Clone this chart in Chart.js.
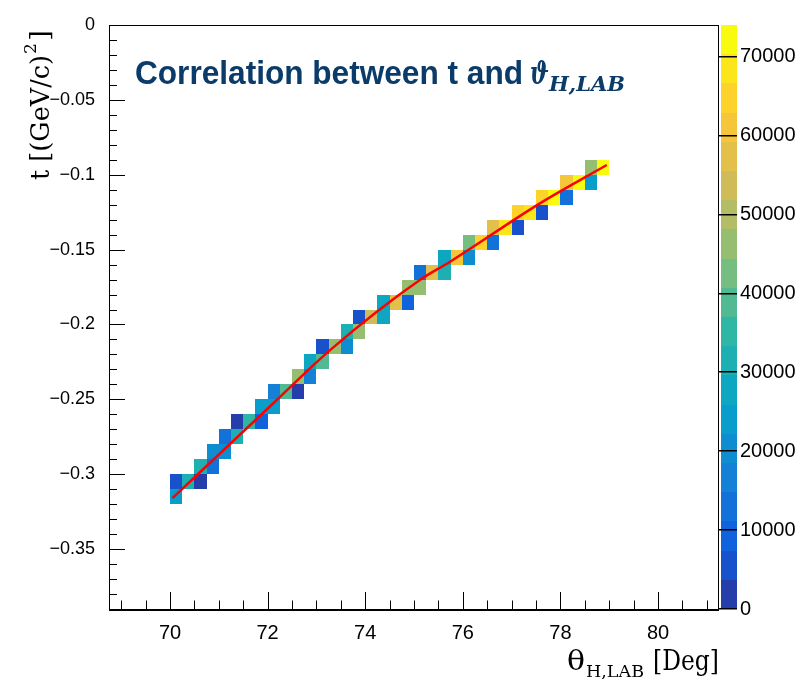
<!DOCTYPE html>
<html>
<head>
<meta charset="utf-8">
<title>Correlation between t and theta</title>
<script src="https://cdn.jsdelivr.net/npm/chart.js@4.4.1/dist/chart.umd.min.js"></script>
<style>
  html, body { margin: 0; padding: 0; background: #ffffff; }
  canvas { display: block; }
</style>
</head>
<body>
<canvas id="corrChart" width="808" height="679"></canvas>
<script>
// lower edges of the filled bins (theta in deg, t in (GeV/c)^2) and the bin contents
const binTheta = [70.00, 70.00, 70.25, 70.50, 70.50, 70.75, 70.75, 71.00, 71.00, 71.25,
                  71.25, 71.50, 71.75, 71.75, 72.00, 72.00, 72.25, 72.50, 72.50, 72.75,
                  72.75, 73.00, 73.00, 73.25, 73.50, 73.50, 73.75, 73.75, 74.00, 74.25,
                  74.25, 74.50, 74.75, 74.75, 75.00, 75.00, 75.25, 75.50, 75.50, 75.75,
                  76.00, 76.00, 76.25, 76.50, 76.50, 76.75, 77.00, 77.00, 77.25, 77.50,
                  77.50, 77.75, 78.00, 78.00, 78.25, 78.50, 78.50, 78.75];
const binT = [-0.32, -0.31, -0.31, -0.31, -0.30, -0.30, -0.29, -0.29, -0.28, -0.28,
              -0.27, -0.27, -0.27, -0.26, -0.26, -0.25, -0.25, -0.25, -0.24, -0.24,
              -0.23, -0.23, -0.22, -0.22, -0.22, -0.21, -0.21, -0.20, -0.20, -0.20,
              -0.19, -0.19, -0.19, -0.18, -0.18, -0.17, -0.17, -0.17, -0.16, -0.16,
              -0.16, -0.15, -0.15, -0.15, -0.14, -0.14, -0.14, -0.13, -0.13, -0.13,
              -0.12, -0.12, -0.12, -0.11, -0.11, -0.11, -0.10, -0.10];
const binCounts = [25000, 7000, 32000, 3000, 33000, 12000, 21000, 21000, 14000, 33000,
                   3000, 35000, 11000, 25000, 25000, 17000, 38000, 3000, 45000, 17000,
                   26000, 40000, 7000, 47000, 20000, 32000, 47000, 7000, 52000, 26000,
                   27000, 57000, 8000, 48000, 48000, 12000, 58000, 32000, 27000, 62000,
                   20000, 44000, 64000, 12000, 57000, 70000, 7000, 65000, 70000, 6000,
                   64000, 72000, 12000, 62000, 74000, 25000, 48000, 74000];
const binWidthTheta = 0.25;
const binWidthT = 0.01;

// fitted curve (red)
const fitTheta = [70.05, 72.15, 73.28, 75.12, 75.74, 77.58, 78.95];
const fitT = [-0.316, -0.2516, -0.2171, -0.1703, -0.1581, -0.1191, -0.0935];

// axes
const thetaTicks = [70, 72, 74, 76, 78, 80];
const tTicks = [0, -0.05, -0.1, -0.15, -0.2, -0.25, -0.3, -0.35];
const countTicks = [0, 10000, 20000, 30000, 40000, 50000, 60000, 70000];
const countMax = 74000;
const nLevels = 20;

// ROOT kBird palette
const birdStops = [0, 0.125, 0.25, 0.375, 0.5, 0.625, 0.75, 0.875, 1];
const birdR = [0.2082, 0.0592, 0.0780, 0.0232, 0.1802, 0.5301, 0.8186, 0.9956, 0.9764];
const birdG = [0.1664, 0.3599, 0.5041, 0.6419, 0.7178, 0.7492, 0.7328, 0.7862, 0.9832];
const birdB = [0.5293, 0.8684, 0.8385, 0.7914, 0.6425, 0.4662, 0.3499, 0.1968, 0.0539];

function birdColor(f) {
    f = Math.max(0, Math.min(1, f));
    let i = 0;
    while (i < birdStops.length - 2 && f > birdStops[i + 1]) i++;
    const u = (f - birdStops[i]) / (birdStops[i + 1] - birdStops[i]);
    const c = a => Math.round(255 * (a[i] + (a[i + 1] - a[i]) * u));
    return `rgb(${c(birdR)},${c(birdG)},${c(birdB)})`;
}

function levelColor(k) {
    return birdColor((k + 0.99) / nLevels);
}

function countColor(v) {
    const k = Math.min(nLevels - 1, Math.floor(v / (countMax / nLevels)));
    return levelColor(k);
}

// text squeezed into a given width, like the stretched labels of the picture
function fitText(ctx, text, font, x, y, width) {
    ctx.font = font;
    const w = ctx.measureText(text).width;
    ctx.save();
    ctx.translate(x, y);
    ctx.scale(width / w, 1);
    ctx.fillText(text, 0, 0);
    ctx.restore();
}

const th2Plugin = {
    id: 'th2',
    beforeDraw(chart) {
        const { ctx } = chart;
        ctx.save();
        ctx.fillStyle = '#ffffff';
        ctx.fillRect(0, 0, chart.width, chart.height);

        // palette box
        const z = chart.scales.z;
        const step = countMax / nLevels;
        for (let k = 0; k < nLevels; k++) {
            const y1 = Math.round(z.getPixelForValue(k * step));
            const y2 = Math.round(z.getPixelForValue((k + 1) * step));
            ctx.fillStyle = levelColor(k);
            ctx.fillRect(z.left + 2, y2, 16, y1 - y2);
        }
        ctx.restore();
    },
    beforeDatasetsDraw(chart) {
        const { ctx } = chart;
        const xs = chart.scales.x, ys = chart.scales.y;
        ctx.save();
        chart.data.datasets[0].data.forEach(p => {
            const l = Math.round(xs.getPixelForValue(p.x - binWidthTheta / 2));
            const r = Math.round(xs.getPixelForValue(p.x + binWidthTheta / 2));
            const t = Math.round(ys.getPixelForValue(p.y + binWidthT / 2));
            const b = Math.round(ys.getPixelForValue(p.y - binWidthT / 2));
            ctx.fillStyle = countColor(p.v);
            ctx.fillRect(l, t, r - l, b - t);
        });
        ctx.restore();
    },
    afterDatasetsDraw(chart) {
        const { ctx, chartArea: a } = chart;
        const xs = chart.scales.x, ys = chart.scales.y;
        ctx.save();
        ctx.strokeStyle = '#000000';
        ctx.lineWidth = 1;
        ctx.beginPath();
        // ticks pointing into the frame, ROOT style
        for (let i = 0; i <= 24; i++) {
            const px = Math.round(xs.getPixelForValue(69 + i * 0.5)) + 0.5;
            const len = i % 4 === 2 ? 17 : 8.5;
            ctx.moveTo(px, a.bottom);
            ctx.lineTo(px, a.bottom - len);
        }
        for (let i = 0; i <= 38; i++) {
            const py = Math.round(ys.getPixelForValue(-i * 0.01)) + 0.5;
            const len = i % 5 === 0 ? 16 : 8;
            ctx.moveTo(a.left, py);
            ctx.lineTo(a.left + len, py);
        }
        ctx.stroke();
        ctx.strokeRect(Math.round(a.left) + 0.5, Math.round(a.top) + 0.5,
                       Math.round(a.right - a.left) - 1, Math.round(a.bottom - a.top));
        ctx.lineWidth = 2;
        ctx.beginPath();
        ctx.moveTo(a.left, Math.round(a.bottom) + 1);
        ctx.lineTo(a.right, Math.round(a.bottom) + 1);
        ctx.stroke();
        ctx.restore();
    },
    afterDraw(chart) {
        const { ctx } = chart;
        ctx.save();
        ctx.textAlign = 'left';
        ctx.textBaseline = 'alphabetic';

        // title inside the frame
        ctx.fillStyle = '#0b3b69';
        fitText(ctx, 'Correlation between t and', 'bold 34px "Liberation Sans", Arial, sans-serif', 135, 84, 388);
        fitText(ctx, 'ϑ', 'italic bold 32px "DejaVu Serif", serif', 530, 84, 19);
        fitText(ctx, 'H,LAB', 'italic bold 20px "DejaVu Serif", serif', 549, 91, 76);

        // x title
        ctx.fillStyle = '#000000';
        fitText(ctx, 'θ', '28px "DejaVu Serif", serif', 567, 670, 18);
        fitText(ctx, 'H,LAB', '17px "DejaVu Serif", serif', 586, 677, 58);
        fitText(ctx, '[Deg]', '28px "DejaVu Serif", serif', 653, 670, 66);

        // y title, rotated
        ctx.save();
        ctx.translate(49, 180);
        ctx.rotate(-Math.PI / 2);
        fitText(ctx, 't [(GeV/c)', '26px "DejaVu Serif", serif', 0, 0, 125);
        fitText(ctx, '2', '17px "DejaVu Serif", serif', 126, -13, 11);
        fitText(ctx, ']', '26px "DejaVu Serif", serif', 139, 0, 11);
        ctx.restore();

        ctx.restore();
    }
};

const cells = binTheta.map((x, i) => ({
    x: x + binWidthTheta / 2,
    y: binT[i] + binWidthT / 2,
    v: binCounts[i]
}));

const yFont = { family: '"Liberation Sans", Arial, sans-serif', size: 18 };
const xFont = { family: '"Liberation Sans", Arial, sans-serif', size: 20 };

new Chart(document.getElementById('corrChart'), {
    type: 'scatter',
    plugins: [th2Plugin],
    data: {
        datasets: [{
            label: 'entries',
            data: cells,
            pointRadius: 0,
            showLine: false
        }, {
            type: 'line',
            label: 'fit',
            data: fitTheta.map((x, i) => ({ x: x, y: fitT[i] })),
            borderColor: '#ff0000',
            borderWidth: 2.5,
            pointRadius: 0,
            fill: false,
            cubicInterpolationMode: 'monotone'
        }]
    },
    options: {
        responsive: false,
        animation: false,
        events: [],
        layout: { padding: { top: 25, left: 0, right: 0, bottom: 0 } },
        plugins: {
            legend: { display: false },
            title: { display: false },
            tooltip: { enabled: false }
        },
        scales: {
            x: {
                type: 'linear',
                position: 'bottom',
                min: 68.75,
                max: 81.25,
                grid: { display: false },
                border: { display: false },
                ticks: { color: '#000', font: xFont, padding: 4, maxRotation: 0, autoSkip: false },
                afterBuildTicks: s => { s.ticks = thetaTicks.map(v => ({ value: v })); },
                afterFit: s => { s.height = 70; s.paddingLeft = 0; s.paddingRight = 0; }
            },
            y: {
                type: 'linear',
                position: 'left',
                min: -0.39,
                max: 0,
                grid: { display: false },
                border: { display: false },
                ticks: {
                    color: '#000', font: yFont, padding: 6, autoSkip: false,
                    callback: v => v === 0 ? '0' : '\u2212' + String(Math.abs(v))
                },
                afterBuildTicks: s => { s.ticks = tTicks.map(v => ({ value: v })); },
                afterFit: s => { s.width = 109; s.paddingTop = 0; s.paddingBottom = 0; }
            },
            z: {
                type: 'linear',
                axis: 'y',
                position: 'right',
                display: true,
                min: 0,
                max: countMax,
                grid: { display: true, drawOnChartArea: false, drawTicks: true, tickLength: 18, color: '#000', lineWidth: 1.5 },
                border: { display: false },
                ticks: { color: '#000', font: xFont, padding: 3, autoSkip: false, callback: v => String(v) },
                afterBuildTicks: s => { s.ticks = countTicks.map(v => ({ value: v })); },
                afterFit: s => { s.width = 89; s.paddingTop = 0; s.paddingBottom = 0; }
            }
        }
    }
});
</script>
</body>
</html>
